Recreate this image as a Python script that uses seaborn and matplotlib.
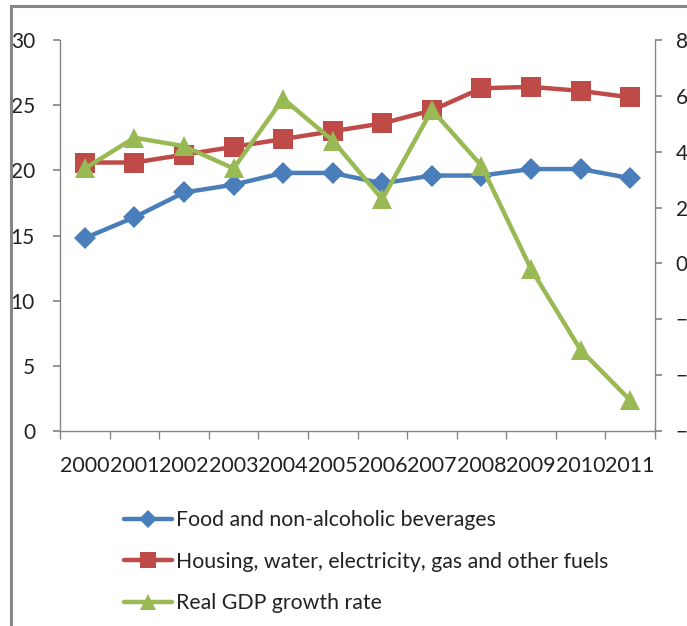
import matplotlib
matplotlib.use("Agg")
import matplotlib.pyplot as plt
import seaborn as sns
import pandas as pd
from matplotlib.patches import Rectangle
from matplotlib.lines import Line2D

years = ["2000", "2001", "2002", "2003", "2004", "2005", "2006", "2007", "2008", "2009", "2010", "2011"]
food = [14.8, 16.4, 18.3, 18.9, 19.8, 19.8, 19.0, 19.6, 19.6, 20.1, 20.1, 19.4]
housing = [20.6, 20.6, 21.2, 21.8, 22.4, 23.0, 23.6, 24.6, 26.3, 26.4, 26.1, 25.6]
gdp = [3.4, 4.5, 4.2, 3.4, 5.9, 4.4, 2.3, 5.5, 3.5, -0.2, -3.1, -4.9]

labels = ["Food and non-alcoholic beverages",
          "Housing, water, electricity, gas and other fuels",
          "Real GDP growth rate"]
colors = ["#4a7ebb", "#be4b48", "#98b954"]

sns.set_theme(style="white")
plt.rcParams['font.family'] = ['Lato', 'DejaVu Sans']

df = pd.DataFrame({"year": years, "food": food, "housing": housing, "gdp": gdp})
df["x"] = range(len(years))

fig = plt.figure(figsize=(6.87, 6.26), dpi=100)
ax = fig.add_axes([60/687, 1-431/626, 595/687, 391/626])
ax2 = ax.twinx()

sns.lineplot(data=df, x="x", y="food", ax=ax, color=colors[0], lw=3.2,
             marker="D", markersize=11, markeredgewidth=0, legend=False)
sns.lineplot(data=df, x="x", y="housing", ax=ax, color=colors[1], lw=3.2,
             marker="s", markersize=14, markeredgewidth=0, legend=False)
sns.lineplot(data=df, x="x", y="gdp", ax=ax2, color=colors[2], lw=3.2,
             marker="^", markersize=15, markeredgewidth=0, legend=False)

ax.set_xlim(-0.5, len(years)-0.5)
ax.set_ylim(0, 30)
ax.set_yticks(range(0, 31, 5))
ax2.set_ylim(-6, 8)
ax2.set_yticks(range(-6, 9, 2))
ax.set_xticks([i for i in range(len(years))])
ax.set_xticklabels(years)
ax.set_xlabel("")
ax.set_ylabel("")
ax2.set_ylabel("")

spine_c = "#868686"
for a in (ax, ax2):
    for s in a.spines.values():
        s.set_visible(False)
ax.spines["left"].set_visible(True)
ax.spines["bottom"].set_visible(True)
ax2.spines["right"].set_visible(True)
for s in (ax.spines["left"], ax.spines["bottom"], ax2.spines["right"]):
    s.set_color(spine_c)
    s.set_linewidth(1.0)

ax.tick_params(axis="y", which="both", left=True, length=5, color=spine_c,
               labelsize=15, labelcolor="#222222", pad=13)
ax2.tick_params(axis="y", which="both", right=True, length=5, color=spine_c,
                labelsize=15, labelcolor="#222222", pad=10)
# x ticks: labels centered, tick marks at category boundaries
ax.tick_params(axis="x", which="major", bottom=False, labelsize=15.5,
               labelcolor="#222222", pad=12)
ax.set_xticks([i - 0.5 for i in range(len(years) + 1)], minor=True)
ax.tick_params(axis="x", which="minor", bottom=True, length=6, color=spine_c)

# outer chart border
fig.patches.append(Rectangle((11/687, -0.1), 1.2, 1 - 6/626 + 0.1,
                             transform=fig.transFigure, fill=False,
                             edgecolor="#868686", lw=2.2, zorder=0))

handles = [
    Line2D([], [], color=colors[0], lw=3.2, marker="D", markersize=9, markeredgewidth=0),
    Line2D([], [], color=colors[1], lw=3.2, marker="s", markersize=12, markeredgewidth=0),
    Line2D([], [], color=colors[2], lw=3.2, marker="^", markersize=12, markeredgewidth=0),
]
fig.legend(handles, labels, loc="upper left", bbox_to_anchor=(105/687, 1-491/626),
           frameon=False, fontsize=15.3, handlelength=2.25, handletextpad=0.2,
           labelspacing=1.02, labelcolor="#222222")

fig.savefig("out.png", dpi=100)
